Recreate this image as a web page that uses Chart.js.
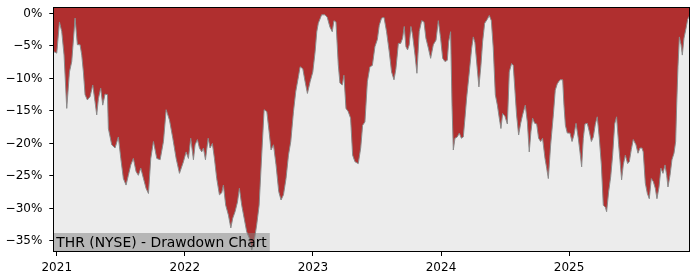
<!DOCTYPE html>
<html>
<head>
<meta charset="utf-8">
<script src="https://cdn.jsdelivr.net/npm/chart.js@4/dist/chart.umd.min.js"></script>
<style>
  html, body { margin: 0; padding: 0; background: #fff; }
  #wrap { width: 700px; height: 280px; }
</style>
</head>
<body>
<div id="wrap"><canvas id="dd"></canvas></div>
<script>
// dates as decimal years, drawdown in percent
var years = [
    2020.974, 2020.979, 2021.000, 2021.021, 2021.039, 2021.057, 2021.078, 2021.099, 2021.117, 2021.143,
    2021.161, 2021.182, 2021.195, 2021.208, 2021.221, 2021.239, 2021.260, 2021.281, 2021.299, 2021.312,
    2021.325, 2021.343, 2021.359, 2021.377, 2021.396, 2021.403, 2021.429, 2021.455, 2021.481, 2021.500,
    2021.520, 2021.541, 2021.559, 2021.578, 2021.598, 2021.619, 2021.637, 2021.656, 2021.677, 2021.697,
    2021.716, 2021.734, 2021.755, 2021.781, 2021.807, 2021.833, 2021.854, 2021.880, 2021.906, 2021.932,
    2021.958, 2021.989, 2022.010, 2022.028, 2022.046, 2022.067, 2022.080, 2022.098, 2022.114, 2022.132,
    2022.145, 2022.161, 2022.182, 2022.197, 2022.215, 2022.231, 2022.249, 2022.270, 2022.288, 2022.301,
    2022.319, 2022.340, 2022.359, 2022.374, 2022.392, 2022.411, 2022.426, 2022.444, 2022.463, 2022.483,
    2022.504, 2022.522, 2022.541, 2022.561, 2022.580, 2022.600, 2022.619, 2022.640, 2022.658, 2022.673,
    2022.692, 2022.712, 2022.733, 2022.751, 2022.770, 2022.790, 2022.809, 2022.827, 2022.848, 2022.866,
    2022.887, 2022.900, 2022.921, 2022.939, 2022.957, 2022.978, 2022.999, 2023.017, 2023.030, 2023.042,
    2023.068, 2023.094, 2023.112, 2023.133, 2023.151, 2023.164, 2023.180, 2023.198, 2023.211, 2023.229,
    2023.242, 2023.258, 2023.276, 2023.294, 2023.310, 2023.328, 2023.354, 2023.373, 2023.388, 2023.406,
    2023.425, 2023.445, 2023.464, 2023.484, 2023.503, 2023.518, 2023.536, 2023.555, 2023.575, 2023.596,
    2023.614, 2023.633, 2023.648, 2023.667, 2023.685, 2023.700, 2023.713, 2023.726, 2023.739, 2023.752,
    2023.765, 2023.778, 2023.797, 2023.812, 2023.830, 2023.849, 2023.867, 2023.882, 2023.901, 2023.919,
    2023.940, 2023.961, 2023.979, 2023.997, 2024.013, 2024.031, 2024.049, 2024.060, 2024.075, 2024.086,
    2024.096, 2024.109, 2024.127, 2024.143, 2024.159, 2024.174, 2024.187, 2024.200, 2024.221, 2024.239,
    2024.252, 2024.265, 2024.283, 2024.296, 2024.312, 2024.325, 2024.341, 2024.361, 2024.377, 2024.393,
    2024.408, 2024.424, 2024.440, 2024.455, 2024.468, 2024.481, 2024.499, 2024.518, 2024.533, 2024.551,
    2024.564, 2024.577, 2024.590, 2024.606, 2024.622, 2024.637, 2024.658, 2024.674, 2024.689, 2024.702,
    2024.715, 2024.731, 2024.747, 2024.762, 2024.778, 2024.793, 2024.812, 2024.825, 2024.838, 2024.856,
    2024.877, 2024.892, 2024.908, 2024.929, 2024.950, 2024.960, 2024.971, 2024.986, 2025.007, 2025.023,
    2025.038, 2025.054, 2025.072, 2025.085, 2025.098, 2025.111, 2025.124, 2025.142, 2025.158, 2025.174,
    2025.189, 2025.205, 2025.220, 2025.236, 2025.252, 2025.267, 2025.283, 2025.293, 2025.309, 2025.325,
    2025.340, 2025.356, 2025.371, 2025.387, 2025.397, 2025.410, 2025.423, 2025.439, 2025.457, 2025.470,
    2025.486, 2025.501, 2025.522, 2025.538, 2025.553, 2025.569, 2025.579, 2025.595, 2025.611, 2025.626,
    2025.642, 2025.658, 2025.673, 2025.686, 2025.702, 2025.717, 2025.733, 2025.749, 2025.762, 2025.772,
    2025.788, 2025.803, 2025.819, 2025.832, 2025.840, 2025.850, 2025.861, 2025.874, 2025.884, 2025.897,
    2025.913, 2025.926, 2025.939
];
var drawdown = [
    -5.9, -5.9, -6.1, -1.3, -2.8, -6.4, -14.6, -9.0, -7.4, -0.7,
    -4.8, -4.8, -6.4, -9.0, -12.5, -13.3, -12.8, -11.0, -13.6, -15.6,
    -13.1, -11.5, -14.1, -12.4, -12.5, -17.7, -20.2, -20.7, -19.0, -22.3,
    -25.4, -26.4, -24.9, -23.3, -22.3, -24.3, -24.9, -23.8, -25.4, -26.9,
    -27.7, -22.3, -19.7, -22.3, -22.5, -19.7, -14.8, -16.4, -19.2, -22.3,
    -24.6, -22.8, -21.3, -22.3, -19.2, -22.5, -20.2, -19.4, -20.7, -21.3,
    -20.7, -22.5, -19.2, -20.7, -20.0, -22.3, -25.4, -27.9, -27.6, -26.4,
    -29.5, -31.0, -33.0, -31.5, -30.5, -29.0, -26.9, -29.5, -31.5, -33.6,
    -34.6, -36.4, -35.1, -32.5, -29.5, -21.8, -14.8, -15.1, -18.2, -21.0,
    -20.2, -23.3, -27.4, -28.7, -27.9, -25.4, -21.8, -19.7, -15.1, -12.0,
    -9.7, -8.2, -8.5, -10.5, -12.3, -10.5, -9.0, -5.9, -2.8, -1.5,
    -0.2, -0.2, -0.6, -2.1, -2.8, -1.1, -1.3, -7.9, -10.7, -11.0,
    -9.5, -14.6, -15.1, -16.1, -21.8, -22.8, -23.1, -20.7, -17.2, -16.7,
    -10.5, -8.2, -8.0, -5.1, -4.0, -1.8, -0.7, -0.6, -2.8, -5.9,
    -9.0, -10.2, -8.5, -4.6, -4.6, -3.8, -2.0, -5.1, -5.6, -4.8,
    -2.0, -3.3, -6.4, -9.2, -2.8, -1.1, -1.3, -3.8, -5.3, -6.9,
    -4.8, -4.1, -1.1, -3.8, -6.9, -7.4, -7.2, -4.3, -2.8, -14.1,
    -21.0, -19.2, -19.0, -18.4, -19.2, -19.0, -16.1, -13.0, -9.0, -5.4,
    -3.6, -4.5, -8.5, -11.3, -7.9, -4.3, -1.5, -0.9, -0.3, -1.1,
    -5.3, -12.5, -14.1, -16.1, -17.7, -15.4, -15.8, -17.0, -9.0, -7.7,
    -8.0, -11.8, -15.6, -18.7, -16.9, -15.6, -14.1, -16.7, -21.3, -18.2,
    -16.1, -16.9, -17.0, -19.2, -19.7, -19.2, -22.3, -23.8, -25.4, -20.2,
    -15.6, -11.8, -10.8, -10.2, -10.2, -14.1, -17.2, -18.4, -18.4, -19.7,
    -18.7, -16.9, -19.2, -21.3, -23.6, -19.2, -17.0, -16.9, -18.2, -19.7,
    -19.0, -17.0, -15.9, -19.2, -23.3, -29.5, -29.8, -30.5, -27.4, -25.1,
    -21.8, -17.0, -15.9, -20.2, -22.5, -25.6, -23.3, -21.8, -23.1, -22.8,
    -20.9, -19.4, -20.2, -21.5, -20.7, -20.7, -21.3, -26.1, -27.7, -28.5,
    -25.4, -25.9, -26.9, -28.5, -26.7, -23.8, -24.6, -23.3, -24.9, -26.7,
    -24.9, -22.5, -21.5, -19.7, -14.1, -8.2, -3.6, -4.8, -6.4, -3.8,
    -2.3, -0.9, -0.4
];
var yearTicks = [2021, 2022, 2023, 2024, 2025];
var pctTicks = [0, -5, -10, -15, -20, -25, -30, -35];
var chartTitle = "THR (NYSE) - Drawdown Chart";

var points = years.map(function (x, i) {
    return { x: x, y: drawdown[i] };
});

var fontFamily = "'DejaVu Sans', sans-serif";

var framePlugin = {
    id: "frame",
    beforeDraw: function (chart) {
        var a = chart.chartArea;
        var c = chart.ctx;
        c.save();
        c.fillStyle = "#ececec";
        c.fillRect(a.left, a.top, a.right - a.left, a.bottom - a.top);
        c.restore();
    },
    afterDraw: function (chart) {
        var a = chart.chartArea;
        var c = chart.ctx;
        c.save();
        // title box, bottom left
        c.font = "13.9px " + fontFamily;
        var w = c.measureText(chartTitle).width;
        c.fillStyle = "rgba(128,128,128,0.5)";
        c.fillRect(a.left, a.bottom - 19, w + 6, 19);
        c.fillStyle = "#000";
        c.textBaseline = "alphabetic";
        c.fillText(chartTitle, a.left + 3, a.bottom - 4.7);
        // frame
        c.strokeStyle = "#000";
        c.lineWidth = 1;
        c.strokeRect(Math.round(a.left) + 0.5, Math.round(a.top) + 0.5,
            Math.round(a.right - a.left) - 1, Math.round(a.bottom - a.top) - 1);
        c.restore();
    }
};

var ctx = document.getElementById("dd").getContext("2d");
var myChart = new Chart(ctx, {
    type: "line",
    data: {
        datasets: [
            {
                data: points,
                borderColor: "#8a8a8a",
                borderWidth: 1,
                backgroundColor: "#b02f2f",
                fill: "end",
                pointRadius: 0,
                tension: 0,
            },
        ],
    },
    options: {
        responsive: true,
        maintainAspectRatio: false,
        animation: false,
        layout: { padding: { top: 7, right: 10, left: 0, bottom: 0 } },
        plugins: {
            legend: { display: false },
            tooltip: { enabled: false },
        },
        scales: {
            x: {
                type: "linear",
                min: 2020.973,
                max: 2025.944,
                afterBuildTicks: function (scale) {
                    scale.ticks = yearTicks.map(function (v) { return { value: v }; });
                },
                afterFit: function (scale) {
                    scale.height = 28;
                    scale.paddingLeft = 0;
                    scale.paddingRight = 0;
                },
                grid: { drawOnChartArea: false, drawTicks: true, tickLength: 4, color: "#000" },
                border: { display: false },
                ticks: {
                    color: "#000",
                    padding: 5,
                    maxRotation: 0,
                    font: { family: fontFamily, size: 12 },
                    callback: function (v) { return String(v); },
                },
            },
            y: {
                min: -36.7,
                max: 1.0,
                afterBuildTicks: function (scale) {
                    scale.ticks = pctTicks.map(function (v) { return { value: v }; });
                },
                afterFit: function (scale) {
                    scale.width = 53.3;
                    scale.paddingTop = 0;
                    scale.paddingBottom = 0;
                },
                grid: { drawOnChartArea: false, drawTicks: true, tickLength: 4, color: "#000" },
                border: { display: false },
                ticks: {
                    color: "#000",
                    padding: 7,
                    font: { family: fontFamily, size: 12 },
                    callback: function (v) {
                        return (v < 0 ? "\u2212" + Math.abs(v) : v) + "%";
                    },
                },
            },
        },
    },
    plugins: [framePlugin],
});
</script>
</body>
</html>
